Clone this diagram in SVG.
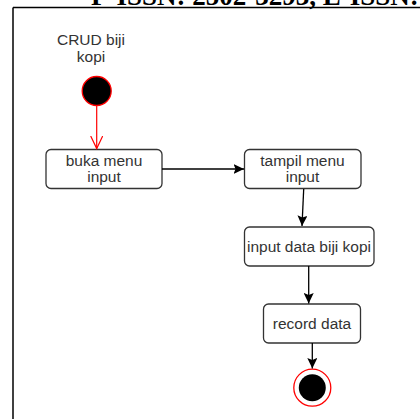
<svg xmlns="http://www.w3.org/2000/svg" width="420" height="419" viewBox="0 0 420 419">
  <style>
    .lbl { font-family: "Liberation Sans", Arial, sans-serif; font-size: 15.5px; fill: #333333; text-anchor: middle; }
    .act { fill: #ffffff; stroke: #333333; stroke-width: 1.3; }
    .flow { fill: none; stroke: #000000; stroke-width: 1.3; }
    .hdr { font-family: "Liberation Serif", "Times New Roman", serif; font-size: 27px; font-weight: bold; fill: #000000; }
  </style>
  <defs>
    <marker id="arrowBlack" markerUnits="userSpaceOnUse" markerWidth="11" markerHeight="10" refX="10.5" refY="5" orient="auto">
      <path d="M0,0 L10.5,5 L0,10 L2,5 z" fill="#000000"/>
    </marker>
    <marker id="arrowRed" markerUnits="userSpaceOnUse" markerWidth="16" markerHeight="16" refX="13" refY="6.5" orient="auto">
      <path d="M0.5,0.5 L13,6.5 L0.5,12.5" fill="none" stroke="#ff0000" stroke-width="1.2"/>
    </marker>
  </defs>

  <rect width="420" height="419" fill="#ffffff"/>

  <!-- page header, cut at the top edge -->
  <text class="hdr" x="91" y="4.5">P-ISSN: 2502-3293, E-ISSN: 2</text>

  <!-- swimlane frame -->
  <g id="frame" fill="none" stroke="#000000" stroke-width="1.5">
    <line x1="13" y1="7.5" x2="420" y2="7.5"/>
    <line x1="13" y1="7.5" x2="13" y2="419"/>
  </g>

  <g id="title">
    <text class="lbl" x="91" y="45">CRUD biji</text>
    <text class="lbl" x="91" y="62">kopi</text>
  </g>

  <g id="start">
    <circle cx="96.7" cy="91" r="14.5" fill="#000000" stroke="#ff0000" stroke-width="1.3"/>
  </g>

  <g id="buka-menu-input">
    <rect class="act" x="46" y="149.5" width="116" height="39" rx="5"/>
    <text class="lbl" x="104" y="166">buka menu</text>
    <text class="lbl" x="104" y="182">input</text>
  </g>

  <g id="tampil-menu-input">
    <rect class="act" x="244.5" y="149.5" width="116.5" height="39" rx="5"/>
    <text class="lbl" x="302.5" y="166">tampil menu</text>
    <text class="lbl" x="302.5" y="182">input</text>
  </g>

  <g id="input-data-biji-kopi">
    <rect class="act" x="244.5" y="227" width="129.5" height="39" rx="5"/>
    <text class="lbl" x="309" y="252">input data biji kopi</text>
  </g>

  <g id="record-data">
    <rect class="act" x="263.5" y="304" width="97" height="39" rx="5"/>
    <text class="lbl" x="312" y="329">record data</text>
  </g>

  <g id="end">
    <circle cx="312.3" cy="387.7" r="18.5" fill="#ffffff" stroke="#ff0000" stroke-width="1.3"/>
    <circle cx="312.3" cy="387.7" r="13.5" fill="#000000"/>
  </g>

  <g id="connectors">
    <line x1="96.7" y1="106" x2="96.7" y2="148.5" stroke="#ff0000" stroke-width="1.2" marker-end="url(#arrowRed)"/>
    <line class="flow" x1="162" y1="169" x2="244" y2="169" marker-end="url(#arrowBlack)"/>
    <line class="flow" x1="303.7" y1="189" x2="302" y2="226" marker-end="url(#arrowBlack)"/>
    <line class="flow" x1="308.7" y1="266" x2="308.7" y2="303.5" marker-end="url(#arrowBlack)"/>
    <line class="flow" x1="312.3" y1="343" x2="312.3" y2="368.5" marker-end="url(#arrowBlack)"/>
  </g>
</svg>
